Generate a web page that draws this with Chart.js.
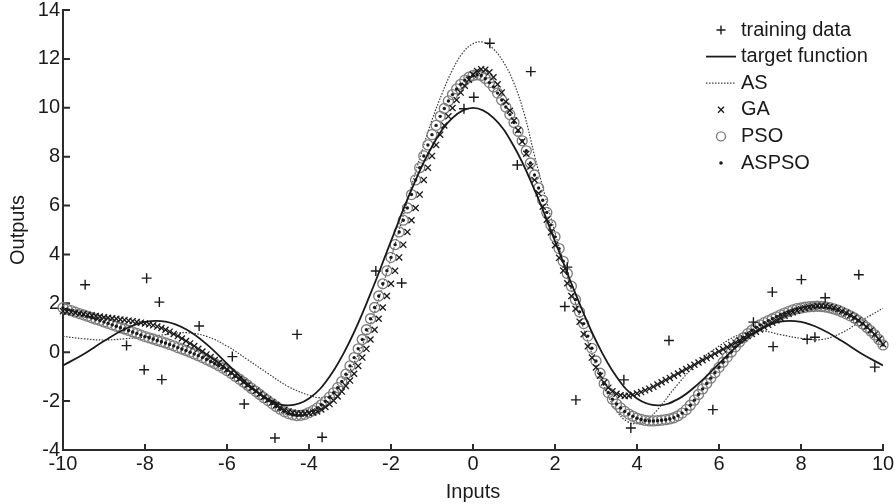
<!DOCTYPE html>
<html>
<head>
<meta charset="utf-8">
<script src="https://cdn.jsdelivr.net/npm/chart.js@4.4.1/dist/chart.umd.min.js"></script>
<style>
  html, body { margin: 0; padding: 0; background: #fff; }
  #wrap { width: 896px; height: 504px; }
</style>
</head>
<body>
<div id="wrap"><canvas id="chart" width="896" height="504"></canvas></div>
<script>
// ===== DATA =====
const seriesNames = ['training data', 'target function', 'AS', 'GA', 'PSO', 'ASPSO'];

// noisy training samples
const trainIn  = [-9.46,-8.45,-8.02,-7.96,-7.65,-7.59,-6.68,-5.87,-5.58,-4.83,-4.29,-3.68,-2.37,-1.74,-0.22,0.02,0.41,1.08,1.41,2.24,2.30,2.51,3.68,3.85,4.78,5.85,6.84,7.30,7.32,8.01,8.15,8.34,8.59,9.41,9.80];
const trainOut = [2.76,0.27,-0.72,3.03,2.05,-1.12,1.07,-0.18,-2.12,-3.51,0.73,-3.48,3.32,2.83,9.96,10.43,12.64,7.66,11.48,1.87,3.48,-1.95,-1.13,-3.10,0.48,-2.35,1.23,2.46,0.23,2.97,0.53,0.61,2.23,3.17,-0.61];

// target function
const targetIn  = [-10,-9.5,-9,-8.5,-8,-7.5,-7,-6.5,-6,-5.5,-5,-4.5,-4,-3.5,-3,-2.5,-2,-1.5,-1,-0.5,0,0.5,1,1.5,2,2.5,3,3.5,4,4.5,5,5.5,6,6.5,7,7.5,8,8.5,9,9.5,10];
const targetOut = [-0.544,-0.079,0.458,0.939,1.237,1.251,0.939,0.331,-0.466,-1.283,-1.918,-2.172,-1.892,-1.002,0.470,2.394,4.546,6.650,8.415,9.589,10,9.589,8.415,6.650,4.546,2.394,0.470,-1.002,-1.892,-2.172,-1.918,-1.283,-0.466,0.331,0.939,1.251,1.237,0.939,0.458,-0.079,-0.544];

// AS output
const asIn  = [-10,-9.5,-9,-8.5,-8,-7.5,-7,-6.5,-6,-5.5,-5,-4.5,-4,-3.75,-3.5,-3.25,-3,-2.75,-2.5,-2.25,-2,-1.75,-1.5,-1.25,-1,-0.75,-0.5,-0.25,0,0.25,0.5,0.75,1,1.25,1.5,1.75,2,2.25,2.5,2.75,3,3.25,3.5,3.75,4,4.25,4.5,5,5.5,6,6.5,7,7.5,8,8.5,9,9.5,10];
const asOut = [0.65,0.55,0.50,0.55,0.62,0.72,0.80,0.65,0.25,-0.30,-0.87,-1.41,-1.76,-1.86,-1.80,-1.40,-0.75,0.10,1.15,2.45,3.85,5.30,6.80,8.20,9.50,10.60,11.55,12.25,12.62,12.68,12.40,11.85,11.00,9.75,8.05,6.45,4.90,3.40,2.00,0.70,-0.55,-1.60,-2.40,-2.82,-2.92,-2.75,-2.35,-1.30,-0.40,0.25,0.72,0.88,0.72,0.57,0.52,0.80,1.32,1.80];

// dense sample inputs for GA / PSO / ASPSO
const inputs = [
  -10,-9.9,-9.8,-9.7,-9.6,-9.5,-9.4,-9.3,-9.2,-9.1,
  -9,-8.9,-8.8,-8.7,-8.6,-8.5,-8.4,-8.3,-8.2,-8.1,
  -8,-7.9,-7.8,-7.7,-7.6,-7.5,-7.4,-7.3,-7.2,-7.1,
  -7,-6.9,-6.8,-6.7,-6.6,-6.5,-6.4,-6.3,-6.2,-6.1,
  -6,-5.9,-5.8,-5.7,-5.6,-5.5,-5.4,-5.3,-5.2,-5.1,
  -5,-4.9,-4.8,-4.7,-4.6,-4.5,-4.4,-4.3,-4.2,-4.1,
  -4,-3.9,-3.8,-3.7,-3.6,-3.5,-3.4,-3.3,-3.2,-3.1,
  -3,-2.9,-2.8,-2.7,-2.6,-2.5,-2.4,-2.3,-2.2,-2.1,
  -2,-1.9,-1.8,-1.7,-1.6,-1.5,-1.4,-1.3,-1.2,-1.1,
  -1,-0.9,-0.8,-0.7,-0.6,-0.5,-0.4,-0.3,-0.2,-0.1,
  0,0.1,0.2,0.3,0.4,0.5,0.6,0.7,0.8,0.9,
  1,1.1,1.2,1.3,1.4,1.5,1.6,1.7,1.8,1.9,
  2,2.1,2.2,2.3,2.4,2.5,2.6,2.7,2.8,2.9,
  3,3.1,3.2,3.3,3.4,3.5,3.6,3.7,3.8,3.9,
  4,4.1,4.2,4.3,4.4,4.5,4.6,4.7,4.8,4.9,
  5,5.1,5.2,5.3,5.4,5.5,5.6,5.7,5.8,5.9,
  6,6.1,6.2,6.3,6.4,6.5,6.6,6.7,6.8,6.9,
  7,7.1,7.2,7.3,7.4,7.5,7.6,7.7,7.8,7.9,
  8,8.1,8.2,8.3,8.4,8.5,8.6,8.7,8.8,8.9,
  9,9.1,9.2,9.3,9.4,9.5,9.6,9.7,9.8,9.9,
  10
];

const gaOut = [
  1.68,1.66,1.64,1.61,1.58,1.56,1.53,1.51,1.48,1.46,
  1.43,1.41,1.39,1.37,1.34,1.32,1.29,1.27,1.24,1.21,
  1.18,1.14,1.10,1.05,0.99,0.92,0.84,0.75,0.66,0.56,
  0.46,0.36,0.25,0.14,0.03,-0.09,-0.20,-0.32,-0.44,-0.57,
  -0.70,-0.83,-0.96,-1.09,-1.22,-1.35,-1.47,-1.59,-1.71,-1.83,
  -1.94,-2.05,-2.16,-2.26,-2.35,-2.42,-2.47,-2.50,-2.51,-2.51,
  -2.50,-2.47,-2.42,-2.34,-2.24,-2.12,-1.98,-1.81,-1.61,-1.38,
  -1.16,-0.88,-0.56,-0.22,0.14,0.52,0.92,1.37,1.83,2.30,
  2.80,3.33,3.88,4.40,4.92,5.40,5.90,6.45,7.05,7.55,
  8.03,8.48,8.90,9.28,9.65,9.99,10.32,10.62,10.90,11.15,
  11.36,11.50,11.58,11.56,11.45,11.25,10.96,10.62,10.25,9.88,
  9.48,9.08,8.62,8.12,7.60,7.05,6.50,5.95,5.42,4.90,
  4.38,3.86,3.34,2.82,2.30,1.78,1.25,0.74,0.24,-0.22,
  -0.62,-0.96,-1.24,-1.45,-1.60,-1.70,-1.76,-1.79,-1.78,-1.74,
  -1.69,-1.63,-1.56,-1.49,-1.41,-1.32,-1.23,-1.14,-1.05,-0.96,
  -0.87,-0.78,-0.69,-0.60,-0.51,-0.42,-0.33,-0.24,-0.15,-0.06,
  0.03,0.12,0.21,0.30,0.39,0.48,0.57,0.66,0.75,0.84,
  0.93,1.03,1.12,1.21,1.30,1.40,1.49,1.57,1.64,1.70,
  1.76,1.80,1.84,1.87,1.89,1.90,1.89,1.86,1.82,1.76,
  1.69,1.61,1.52,1.42,1.31,1.18,1.04,0.89,0.72,0.53,
  0.33
];

const psoOut = [
  1.82,1.76,1.70,1.64,1.58,1.53,1.47,1.41,1.35,1.30,
  1.24,1.18,1.12,1.06,1.00,0.95,0.89,0.83,0.77,0.70,
  0.64,0.59,0.54,0.48,0.43,0.38,0.32,0.26,0.19,0.13,
  0.07,0.00,-0.07,-0.14,-0.22,-0.30,-0.38,-0.46,-0.55,-0.65,
  -0.75,-0.86,-0.98,-1.10,-1.22,-1.35,-1.48,-1.60,-1.73,-1.86,
  -1.98,-2.10,-2.22,-2.33,-2.43,-2.51,-2.56,-2.59,-2.58,-2.54,
  -2.47,-2.39,-2.28,-2.15,-2.01,-1.84,-1.66,-1.45,-1.20,-0.90,
  -0.56,-0.22,0.14,0.52,0.92,1.37,1.83,2.30,2.80,3.33,
  3.88,4.40,4.92,5.40,5.90,6.45,7.05,7.55,8.03,8.48,
  8.90,9.28,9.65,9.97,10.28,10.54,10.77,10.96,11.13,11.25,
  11.32,11.35,11.32,11.20,11.03,10.85,10.60,10.32,10.03,9.72,
  9.40,9.04,8.65,8.24,7.74,7.25,6.72,6.22,5.72,5.21,
  4.72,4.24,3.72,3.22,2.70,2.15,1.65,1.17,0.66,0.16,
  -0.36,-0.86,-1.28,-1.65,-1.92,-2.12,-2.28,-2.42,-2.53,-2.62,
  -2.70,-2.75,-2.79,-2.81,-2.81,-2.80,-2.78,-2.76,-2.73,-2.68,
  -2.60,-2.49,-2.35,-2.17,-1.96,-1.73,-1.50,-1.28,-1.06,-0.84,
  -0.62,-0.41,-0.20,0.01,0.22,0.42,0.60,0.76,0.90,1.02,
  1.12,1.21,1.29,1.37,1.45,1.53,1.60,1.67,1.73,1.78,
  1.81,1.84,1.86,1.87,1.88,1.87,1.85,1.82,1.77,1.72,
  1.65,1.57,1.49,1.40,1.29,1.16,1.02,0.87,0.71,0.52,
  0.30
];

// ASPSO sits on the PSO markers in the figure
const aspsoOut = psoOut;

const xTickVals = [-10, -8, -6, -4, -2, 0, 2, 4, 6, 8, 10];
const yTickVals = [-4, -2, 0, 2, 4, 6, 8, 10, 12, 14];

// ===== HELPERS =====
const FONT = '"Liberation Sans", Arial, Helvetica, sans-serif';
const INK = '#1a1a1a';

function pairs(xs, ys) {
  return xs.map((x, i) => ({ x, y: ys[i] }));
}

// ===== PLUGINS =====
// tick marks point into the plot, like the original figure
const innerTicks = {
  id: 'innerTicks',
  beforeDatasetsDraw(chart) {
    const { ctx, chartArea: a } = chart;
    const sx = chart.scales.x, sy = chart.scales.y;
    ctx.save();
    ctx.strokeStyle = '#2b2b2b';
    ctx.lineWidth = 2;
    ctx.beginPath();
    xTickVals.forEach(v => {
      const px = sx.getPixelForValue(v);
      ctx.moveTo(px, a.bottom);
      ctx.lineTo(px, a.bottom - 6);
    });
    yTickVals.forEach(v => {
      const py = sy.getPixelForValue(v);
      ctx.moveTo(a.left, py);
      ctx.lineTo(a.left + 7, py);
    });
    ctx.stroke();
    ctx.restore();
  }
};

// legend in the top-right corner, symbols drawn by hand
const cornerLegend = {
  id: 'cornerLegend',
  afterDraw(chart) {
    const ctx = chart.ctx;
    const symX = 721, textX = 741;
    ctx.save();
    ctx.font = '20px ' + FONT;
    ctx.textBaseline = 'middle';
    chart.data.datasets.forEach((ds, i) => {
      const y = 30 + i * 26.6;
      ctx.strokeStyle = INK;
      ctx.fillStyle = INK;
      ctx.setLineDash([]);
      ctx.beginPath();
      if (ds.legendKind === 'plus') {
        ctx.lineWidth = 1.4;
        ctx.moveTo(symX - 4.5, y); ctx.lineTo(symX + 4.5, y);
        ctx.moveTo(symX, y - 4.5); ctx.lineTo(symX, y + 4.5);
        ctx.stroke();
      } else if (ds.legendKind === 'line') {
        ctx.lineWidth = ds.borderWidth;
        ctx.strokeStyle = ds.borderColor;
        ctx.setLineDash(ds.borderDash || []);
        ctx.moveTo(706, y); ctx.lineTo(736, y);
        ctx.stroke();
      } else if (ds.legendKind === 'times') {
        ctx.lineWidth = 1.3;
        ctx.moveTo(symX - 3, y - 3); ctx.lineTo(symX + 3, y + 3);
        ctx.moveTo(symX - 3, y + 3); ctx.lineTo(symX + 3, y - 3);
        ctx.stroke();
      } else if (ds.legendKind === 'ring') {
        ctx.lineWidth = 1.4;
        ctx.strokeStyle = ds.pointBorderColor;
        ctx.arc(symX, y, 4.5, 0, Math.PI * 2);
        ctx.stroke();
      } else {
        ctx.arc(symX, y, 1.8, 0, Math.PI * 2);
        ctx.fill();
      }
      ctx.setLineDash([]);
      ctx.fillStyle = INK;
      ctx.fillText(ds.label, textX, y);
    });
    ctx.restore();
  }
};

// ===== CHART =====
new Chart(document.getElementById('chart'), {
  type: 'scatter',
  data: {
    datasets: [
      {
        label: seriesNames[0], legendKind: 'plus',
        data: pairs(trainIn, trainOut),
        pointStyle: 'cross', pointRadius: 5, pointBorderWidth: 1.4,
        pointBorderColor: INK, borderColor: INK, showLine: false,
        clip: false, order: 1
      },
      {
        label: seriesNames[1], legendKind: 'line',
        data: pairs(targetIn, targetOut),
        showLine: true, borderColor: INK, borderWidth: 1.8, tension: 0.4,
        pointRadius: 0, order: 2
      },
      {
        label: seriesNames[2], legendKind: 'line',
        data: pairs(asIn, asOut),
        showLine: true, borderColor: '#3a3a3a', borderWidth: 1.2, borderDash: [1.5, 1.5],
        tension: 0.4, pointRadius: 0, order: 6
      },
      {
        label: seriesNames[3], legendKind: 'times',
        data: pairs(inputs, gaOut),
        pointStyle: 'crossRot', pointRadius: 4.3, pointBorderWidth: 1.3,
        pointBorderColor: INK, borderColor: INK, showLine: false,
        clip: false, order: 4
      },
      {
        label: seriesNames[4], legendKind: 'ring',
        data: pairs(inputs, psoOut),
        pointStyle: 'circle', pointRadius: 5, pointBorderWidth: 1.3,
        pointBorderColor: '#7d7d7d', pointBackgroundColor: 'rgba(255,255,255,0)',
        borderColor: '#7d7d7d', showLine: false, clip: false, order: 5
      },
      {
        label: seriesNames[5], legendKind: 'dot',
        data: pairs(inputs, aspsoOut),
        pointStyle: 'circle', pointRadius: 1.7, pointBorderWidth: 0,
        pointBackgroundColor: INK, borderColor: INK, showLine: false,
        clip: false, order: 0
      }
    ]
  },
  options: {
    responsive: false,
    animation: false,
    devicePixelRatio: 1,
    layout: { padding: { top: 10, right: 13, left: 0, bottom: 0 } },
    plugins: {
      legend: { display: false },
      tooltip: { enabled: false }
    },
    scales: {
      x: {
        type: 'linear', min: -10, max: 10,
        afterFit(s) { s.height = 54; s.paddingLeft = 0; s.paddingRight = 0; },
        afterBuildTicks(s) { s.ticks = xTickVals.map(v => ({ value: v })); },
        ticks: { color: INK, font: { family: FONT, size: 20 }, padding: 2, maxRotation: 0 },
        grid: { display: true, drawOnChartArea: false, drawTicks: false },
        border: { display: true, color: '#2b2b2b', width: 2 },
        title: { display: true, text: 'Inputs', color: INK, font: { family: FONT, size: 20 }, padding: { top: 0, bottom: 0 } }
      },
      y: {
        type: 'linear', min: -4, max: 14,
        afterFit(s) { s.width = 63; s.paddingTop = 0; s.paddingBottom = 0; },
        afterBuildTicks(s) { s.ticks = yTickVals.map(v => ({ value: v })); },
        ticks: { color: INK, font: { family: FONT, size: 20 }, padding: 3 },
        grid: { display: true, drawOnChartArea: false, drawTicks: false },
        border: { display: true, color: '#2b2b2b', width: 2 },
        title: { display: true, text: 'Outputs', color: INK, font: { family: FONT, size: 20 }, padding: { top: 6, bottom: 0 } }
      }
    }
  },
  plugins: [innerTicks, cornerLegend]
});
</script>
</body>
</html>
